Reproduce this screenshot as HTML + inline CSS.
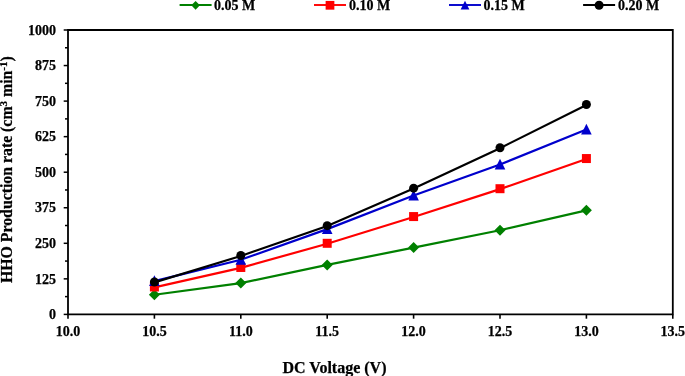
<!DOCTYPE html>
<html><head><meta charset="utf-8"><style>
html,body{margin:0;padding:0;background:#fff;width:685px;height:376px;overflow:hidden}
svg{display:block;will-change:transform}
text{font-family:"Liberation Serif",serif;font-weight:bold;fill:#000;stroke:#000;stroke-width:0.25px}
</style></head><body>
<svg width="685" height="376" viewBox="0 0 685 376">
<path d="M68.0 30.0H672.8V314.4H68.0Z" fill="none" stroke="#000" stroke-width="1.8"/>
<line x1="63.7" y1="314.40" x2="68.0" y2="314.40" stroke="#000" stroke-width="1.5"/>
<text x="56" y="319.10" font-size="14" text-anchor="end">0</text>
<line x1="65.0" y1="296.62" x2="68.0" y2="296.62" stroke="#000" stroke-width="1.5"/>
<line x1="63.7" y1="278.85" x2="68.0" y2="278.85" stroke="#000" stroke-width="1.5"/>
<text x="56" y="283.55" font-size="14" text-anchor="end">125</text>
<line x1="65.0" y1="261.07" x2="68.0" y2="261.07" stroke="#000" stroke-width="1.5"/>
<line x1="63.7" y1="243.30" x2="68.0" y2="243.30" stroke="#000" stroke-width="1.5"/>
<text x="56" y="248.00" font-size="14" text-anchor="end">250</text>
<line x1="65.0" y1="225.52" x2="68.0" y2="225.52" stroke="#000" stroke-width="1.5"/>
<line x1="63.7" y1="207.75" x2="68.0" y2="207.75" stroke="#000" stroke-width="1.5"/>
<text x="56" y="212.45" font-size="14" text-anchor="end">375</text>
<line x1="65.0" y1="189.97" x2="68.0" y2="189.97" stroke="#000" stroke-width="1.5"/>
<line x1="63.7" y1="172.20" x2="68.0" y2="172.20" stroke="#000" stroke-width="1.5"/>
<text x="56" y="176.90" font-size="14" text-anchor="end">500</text>
<line x1="65.0" y1="154.42" x2="68.0" y2="154.42" stroke="#000" stroke-width="1.5"/>
<line x1="63.7" y1="136.65" x2="68.0" y2="136.65" stroke="#000" stroke-width="1.5"/>
<text x="56" y="141.35" font-size="14" text-anchor="end">625</text>
<line x1="65.0" y1="118.88" x2="68.0" y2="118.88" stroke="#000" stroke-width="1.5"/>
<line x1="63.7" y1="101.10" x2="68.0" y2="101.10" stroke="#000" stroke-width="1.5"/>
<text x="56" y="105.80" font-size="14" text-anchor="end">750</text>
<line x1="65.0" y1="83.32" x2="68.0" y2="83.32" stroke="#000" stroke-width="1.5"/>
<line x1="63.7" y1="65.55" x2="68.0" y2="65.55" stroke="#000" stroke-width="1.5"/>
<text x="56" y="70.25" font-size="14" text-anchor="end">875</text>
<line x1="65.0" y1="47.77" x2="68.0" y2="47.77" stroke="#000" stroke-width="1.5"/>
<line x1="63.7" y1="30.00" x2="68.0" y2="30.00" stroke="#000" stroke-width="1.5"/>
<text x="56" y="34.70" font-size="14" text-anchor="end">1000</text>
<line x1="68.00" y1="314.4" x2="68.00" y2="318.7" stroke="#000" stroke-width="1.6"/>
<text x="68.00" y="336" font-size="14" text-anchor="middle">10.0</text>
<line x1="154.40" y1="314.4" x2="154.40" y2="318.7" stroke="#000" stroke-width="1.6"/>
<text x="154.40" y="336" font-size="14" text-anchor="middle">10.5</text>
<line x1="240.80" y1="314.4" x2="240.80" y2="318.7" stroke="#000" stroke-width="1.6"/>
<text x="240.80" y="336" font-size="14" text-anchor="middle">11.0</text>
<line x1="327.20" y1="314.4" x2="327.20" y2="318.7" stroke="#000" stroke-width="1.6"/>
<text x="327.20" y="336" font-size="14" text-anchor="middle">11.5</text>
<line x1="413.60" y1="314.4" x2="413.60" y2="318.7" stroke="#000" stroke-width="1.6"/>
<text x="413.60" y="336" font-size="14" text-anchor="middle">12.0</text>
<line x1="500.00" y1="314.4" x2="500.00" y2="318.7" stroke="#000" stroke-width="1.6"/>
<text x="500.00" y="336" font-size="14" text-anchor="middle">12.5</text>
<line x1="586.40" y1="314.4" x2="586.40" y2="318.7" stroke="#000" stroke-width="1.6"/>
<text x="586.40" y="336" font-size="14" text-anchor="middle">13.0</text>
<line x1="672.80" y1="314.4" x2="672.80" y2="318.7" stroke="#000" stroke-width="1.6"/>
<text x="672.80" y="336" font-size="14" text-anchor="middle">13.5</text>
<polyline transform="translate(0 0.0)" points="154.40,294.78 240.80,283.12 327.20,264.91 413.60,247.57 500.00,230.22 586.40,210.31" fill="none" stroke="#008000" stroke-width="2.2"/>
<path d="M154.40 289.28L159.90 294.78L154.40 300.28L148.90 294.78Z" fill="#008000"/>
<path d="M240.80 277.62L246.30 283.12L240.80 288.62L235.30 283.12Z" fill="#008000"/>
<path d="M327.20 259.41L332.70 264.91L327.20 270.41L321.70 264.91Z" fill="#008000"/>
<path d="M413.60 242.07L419.10 247.57L413.60 253.07L408.10 247.57Z" fill="#008000"/>
<path d="M500.00 224.72L505.50 230.22L500.00 235.72L494.50 230.22Z" fill="#008000"/>
<path d="M586.40 204.81L591.90 210.31L586.40 215.81L580.90 210.31Z" fill="#008000"/>
<polyline transform="translate(0 0.4)" points="154.40,286.96 240.80,267.47 327.20,243.30 413.60,216.57 500.00,188.70 586.40,158.55" fill="none" stroke="#ff0000" stroke-width="2.2"/>
<rect x="149.90" y="282.46" width="9.00" height="9.00" fill="#ff0000"/>
<rect x="236.30" y="262.97" width="9.00" height="9.00" fill="#ff0000"/>
<rect x="322.70" y="238.80" width="9.00" height="9.00" fill="#ff0000"/>
<rect x="409.10" y="212.07" width="9.00" height="9.00" fill="#ff0000"/>
<rect x="495.50" y="184.20" width="9.00" height="9.00" fill="#ff0000"/>
<rect x="581.90" y="154.05" width="9.00" height="9.00" fill="#ff0000"/>
<polyline transform="translate(0 0.3)" points="154.40,280.84 240.80,259.51 327.20,228.80 413.60,195.24 500.00,164.24 586.40,129.26" fill="none" stroke="#0000cc" stroke-width="2.2"/>
<path d="M154.40 275.34L159.70 286.04L149.10 286.04Z" fill="#0000cc"/>
<path d="M240.80 254.01L246.10 264.71L235.50 264.71Z" fill="#0000cc"/>
<path d="M327.20 223.30L332.50 234.00L321.90 234.00Z" fill="#0000cc"/>
<path d="M413.60 189.74L418.90 200.44L408.30 200.44Z" fill="#0000cc"/>
<path d="M500.00 158.74L505.30 169.44L494.70 169.44Z" fill="#0000cc"/>
<path d="M586.40 123.76L591.70 134.46L581.10 134.46Z" fill="#0000cc"/>
<polyline transform="translate(0 0.4)" points="154.40,281.98 240.80,255.53 327.20,225.67 413.60,188.13 500.00,147.74 586.40,104.51" fill="none" stroke="#000000" stroke-width="2.2"/>
<circle cx="154.40" cy="281.98" r="4.50" fill="#000000"/>
<circle cx="240.80" cy="255.53" r="4.50" fill="#000000"/>
<circle cx="327.20" cy="225.67" r="4.50" fill="#000000"/>
<circle cx="413.60" cy="188.13" r="4.50" fill="#000000"/>
<circle cx="500.00" cy="147.74" r="4.50" fill="#000000"/>
<circle cx="586.40" cy="104.51" r="4.50" fill="#000000"/>
<line x1="179.60" y1="5.0" x2="211.60" y2="5.0" stroke="#008000" stroke-width="1.9"/>
<path d="M195.60 0.95L199.94 5.30L195.60 9.64L191.25 5.30Z" fill="#008000"/>
<text x="214" y="10" font-size="14">0.05 M</text>
<line x1="314.00" y1="5.0" x2="346.00" y2="5.0" stroke="#ff0000" stroke-width="1.9"/>
<rect x="325.63" y="0.93" width="8.73" height="8.73" fill="#ff0000"/>
<text x="349" y="10" font-size="14">0.10 M</text>
<line x1="449.00" y1="5.0" x2="481.00" y2="5.0" stroke="#0000cc" stroke-width="1.9"/>
<path d="M465.00 0.79L469.35 9.56L460.65 9.56Z" fill="#0000cc"/>
<text x="483.5" y="10" font-size="14">0.15 M</text>
<line x1="583.10" y1="5.0" x2="615.10" y2="5.0" stroke="#000000" stroke-width="1.9"/>
<circle cx="599.10" cy="5.30" r="4.50" fill="#000000"/>
<text x="618" y="10" font-size="14">0.20 M</text>
<text x="334.5" y="372.5" font-size="16" text-anchor="middle">DC Voltage (V)</text>
<text transform="translate(12.2 169.6) rotate(-90)" font-size="15.8" text-anchor="middle">HHO Production rate (cm<tspan font-size="11" dy="-5.2">3</tspan><tspan dy="5.2"> min</tspan><tspan font-size="11" dy="-5.2">-1</tspan><tspan dy="5.2">)</tspan></text>
</svg></body></html>
